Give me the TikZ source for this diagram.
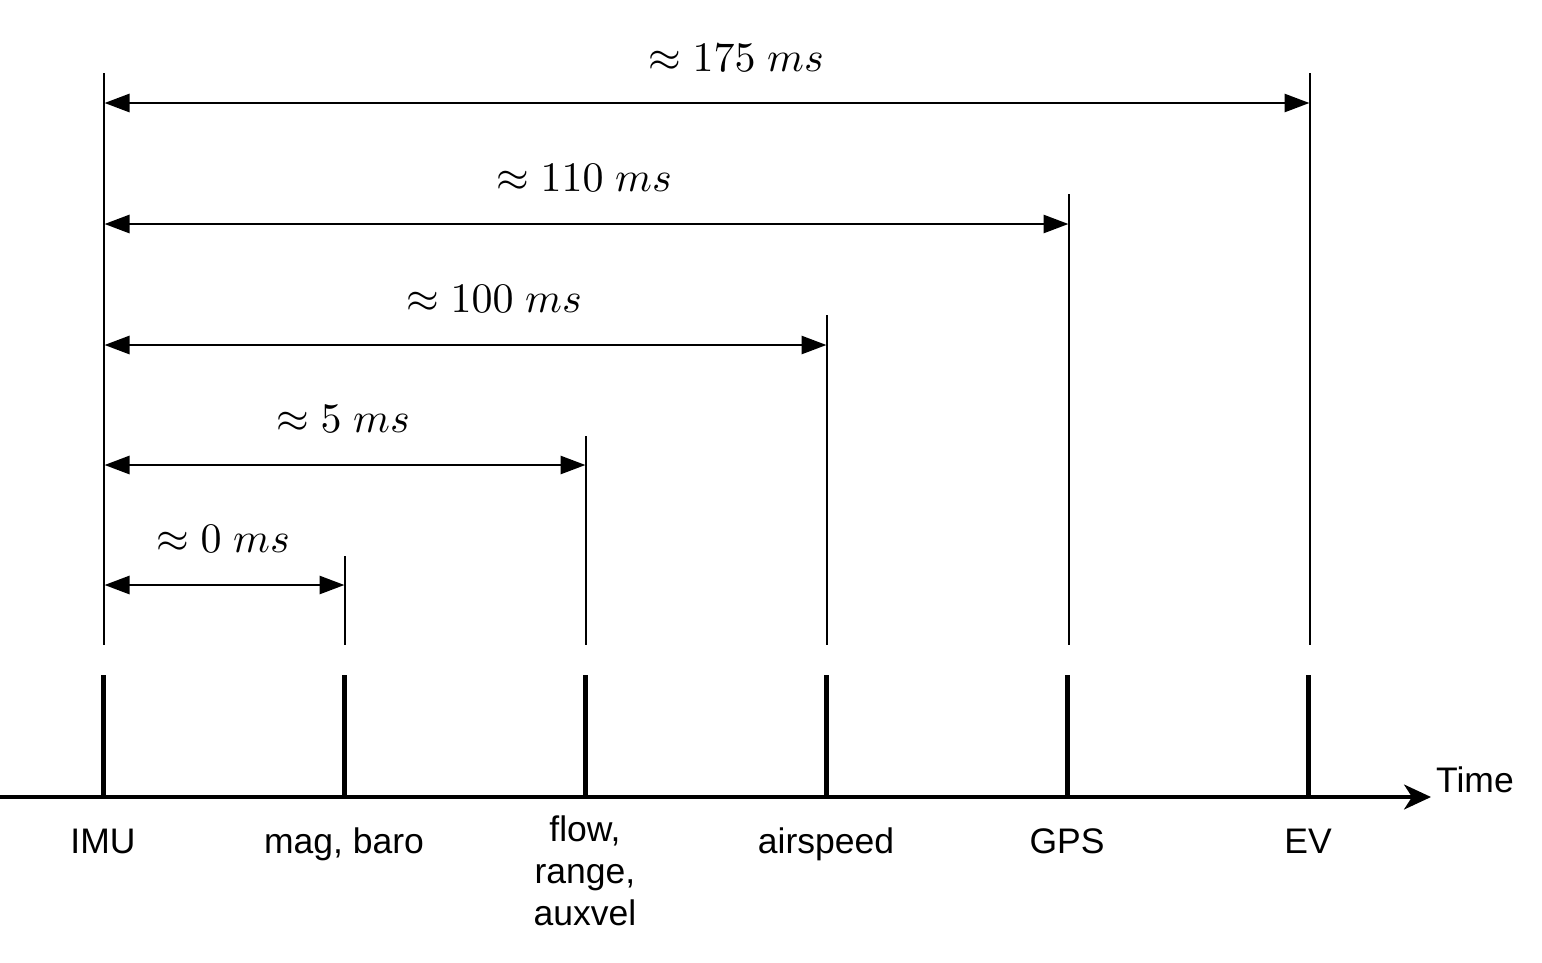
\documentclass[tikz,border=0pt]{standalone}
\usepackage{graphicx}
\usepackage{fontspec}
\setmainfont{Liberation Sans}
\usetikzlibrary{arrows.meta}
\newcommand{\bigmath}[1]{\scalebox{4.2}{\fontsize{10}{12}\selectfont$#1$}}
\begin{document}
\begin{tikzpicture}[x=1pt,y=-1pt,
  thinline/.style={line width=2.6pt},
  tickline/.style={line width=5pt},
  axisline/.style={line width=3.2pt,-{Stealth[length=27pt,width=25pt,inset=8pt]}},
  dimline/.style={line width=2.8pt,{Triangle[length=25pt,width=18pt]}-{Triangle[length=25pt,width=18pt]},shorten <=0.5pt,shorten >=0.5pt},
  lab/.style={font=\fontsize{35.5}{42}\selectfont,align=center,inner sep=0pt},
  blab/.style={lab,anchor=base},
  mlab/.style={inner sep=0pt,anchor=base}]
\useasboundingbox (0,0) rectangle (1542,962);
% vertical thin lines
\coordinate (imuT) at (104,73);   \coordinate (imuB) at (104,645);
\coordinate (magT) at (345,556);  \coordinate (magB) at (345,645);
\coordinate (flowT) at (586,436); \coordinate (flowB) at (586,645);
\coordinate (airT) at (827,315);  \coordinate (airB) at (827,645);
\coordinate (gpsT) at (1069,194); \coordinate (gpsB) at (1069,645);
\coordinate (evT) at (1310,73);   \coordinate (evB) at (1310,645);
\foreach \n in {imu,mag,flow,air,gps,ev}{\draw[thinline] (\n T) -- (\n B);}
% ticks
\coordinate (imuK) at (103,675);  \coordinate (imuA) at (103,797);
\coordinate (magK) at (344,675);  \coordinate (magA) at (344,797);
\coordinate (flowK) at (585,675); \coordinate (flowA) at (585,797);
\coordinate (airK) at (826,675);  \coordinate (airA) at (826,797);
\coordinate (gpsK) at (1067,675); \coordinate (gpsA) at (1067,797);
\coordinate (evK) at (1308,675);  \coordinate (evA) at (1308,797);
\foreach \n in {imu,mag,flow,air,gps,ev}{\draw[tickline] (\n K) -- (\n A);}
% axis
\coordinate (axL) at (0,797);
\coordinate (axR) at (1431,797);
\draw[axisline] (axL) -- (axR);
\node[lab,anchor=west] (time) at (1436,780) {Time};
% dimension arrows
\coordinate (d0L) at (104,585);  \coordinate (d0R) at (345,585);
\coordinate (d5L) at (104,465);  \coordinate (d5R) at (586,465);
\coordinate (d100L) at (104,345); \coordinate (d100R) at (827,345);
\coordinate (d110L) at (104,224); \coordinate (d110R) at (1069,224);
\coordinate (d175L) at (104,103); \coordinate (d175R) at (1310,103);
\foreach \n in {0,5,100,110,175}{\draw[dimline] (d\n L) -- (d\n R);}
\node[mlab] (t0) at (223,552) {\bigmath{\approx 0\;ms}};
\node[mlab] (t5) at (343,432) {\bigmath{\approx 5\;ms}};
\node[mlab] (t100) at (494,312) {\bigmath{\approx 100\;ms}};
\node[mlab] (t110) at (584,191) {\bigmath{\approx 110\;ms}};
\node[mlab] (t175) at (736,71) {\bigmath{\approx 175\;ms}};
% bottom labels
\node[blab] (limu) at (103,853) {IMU};
\node[blab] (lmag) at (344,853) {mag, baro};
\node[lab] (lflow) at (585,871) {flow,\\range,\\auxvel};
\node[blab] (lair) at (826,853) {airspeed};
\node[blab] (lgps) at (1067,853) {GPS};
\node[blab] (lev) at (1308,853) {EV};
\end{tikzpicture}
\end{document}
